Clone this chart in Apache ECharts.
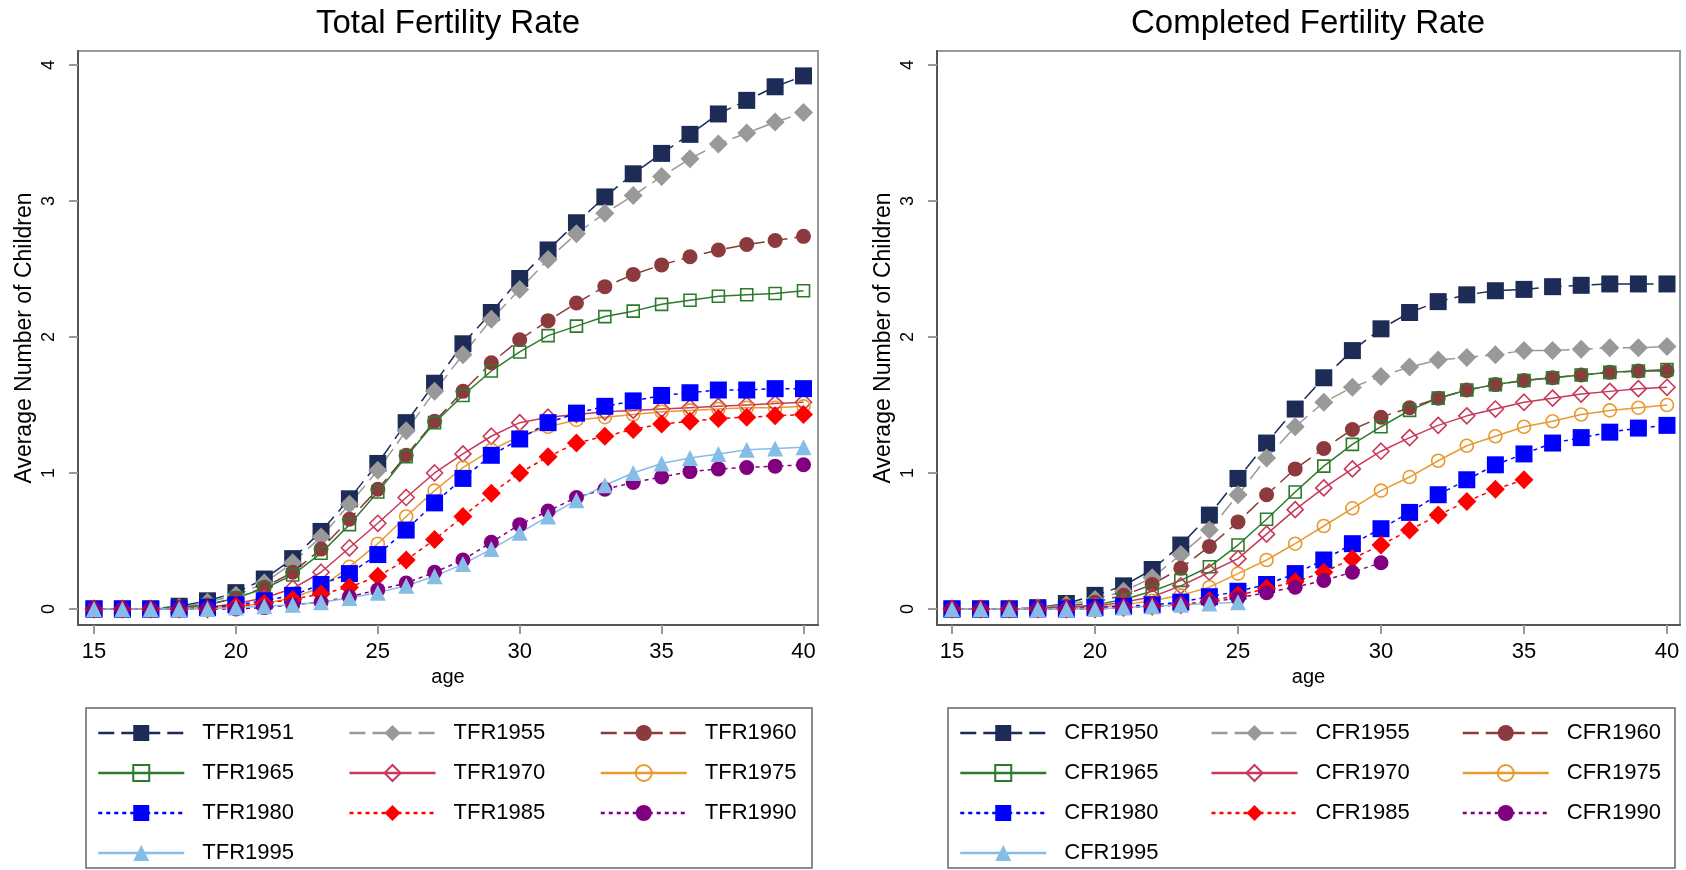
<!DOCTYPE html>
<html>
<head>
<meta charset="utf-8">
<script src="https://cdn.jsdelivr.net/npm/echarts@6/dist/echarts.min.js"></script>
<style>
  html, body { margin: 0; padding: 0; background: #fff; }
  #main { width: 1686px; height: 870px; }
</style>
</head>
<body>
<div id="main"></div>
<script>
// ages 15..40
var ages = [15, 16, 17, 18, 19, 20, 21, 22, 23, 24, 25, 26, 27, 28, 29, 30, 31, 32, 33, 34, 35, 36, 37, 38, 39, 40];
var xTicks = [15, 20, 25, 30, 35, 40];
var yTicks = [0, 1, 2, 3, 4];

// Total Fertility Rate, by cohort
var tfr1951 = [0, 0, 0, 0.02, 0.06, 0.12, 0.22, 0.37, 0.57, 0.81, 1.07, 1.37, 1.66, 1.95, 2.18, 2.43, 2.64, 2.84, 3.03, 3.20, 3.35, 3.49, 3.64, 3.74, 3.84, 3.92];
var tfr1955 = [0, 0, 0, 0.01, 0.05, 0.10, 0.19, 0.34, 0.53, 0.77, 1.02, 1.31, 1.60, 1.87, 2.13, 2.35, 2.57, 2.76, 2.91, 3.04, 3.18, 3.31, 3.42, 3.50, 3.58, 3.65];
var tfr1960 = [0, 0, 0, 0.01, 0.03, 0.08, 0.16, 0.27, 0.44, 0.66, 0.88, 1.13, 1.38, 1.60, 1.81, 1.98, 2.12, 2.25, 2.37, 2.46, 2.53, 2.59, 2.64, 2.68, 2.71, 2.74];
var tfr1965 = [0, 0, 0, 0.01, 0.03, 0.08, 0.15, 0.25, 0.41, 0.62, 0.86, 1.12, 1.37, 1.57, 1.75, 1.89, 2.01, 2.08, 2.15, 2.19, 2.24, 2.27, 2.30, 2.31, 2.32, 2.34];
var tfr1970 = [0, 0, 0, 0, 0.01, 0.04, 0.08, 0.15, 0.27, 0.45, 0.63, 0.82, 1.00, 1.14, 1.27, 1.37, 1.41, 1.43, 1.45, 1.46, 1.47, 1.48, 1.49, 1.50, 1.51, 1.52];
var tfr1975 = [0, 0, 0, 0, 0.01, 0.02, 0.04, 0.08, 0.16, 0.31, 0.48, 0.68, 0.87, 1.04, 1.17, 1.27, 1.34, 1.39, 1.41, 1.43, 1.45, 1.46, 1.47, 1.48, 1.48, 1.49];
var tfr1980 = [0, 0, 0, 0, 0.01, 0.03, 0.06, 0.10, 0.18, 0.26, 0.40, 0.58, 0.78, 0.96, 1.13, 1.25, 1.37, 1.44, 1.49, 1.53, 1.57, 1.59, 1.61, 1.61, 1.62, 1.62];
var tfr1985 = [0, 0, 0, 0, 0, 0.02, 0.04, 0.07, 0.11, 0.16, 0.24, 0.36, 0.51, 0.68, 0.85, 1.00, 1.12, 1.22, 1.27, 1.32, 1.36, 1.38, 1.40, 1.41, 1.42, 1.43];
var tfr1990 = [0, 0, 0, 0, 0, 0, 0.01, 0.03, 0.05, 0.09, 0.14, 0.19, 0.27, 0.36, 0.49, 0.62, 0.72, 0.82, 0.88, 0.93, 0.97, 1.01, 1.03, 1.04, 1.05, 1.06];
var tfr1995 = [0, 0, 0, 0, 0, 0.01, 0.02, 0.03, 0.05, 0.08, 0.12, 0.17, 0.24, 0.33, 0.44, 0.56, 0.68, 0.80, 0.91, 1.00, 1.07, 1.11, 1.14, 1.17, 1.18, 1.19];

// Completed Fertility Rate, by cohort (younger cohorts stop early)
var cfr1950 = [0, 0, 0, 0.01, 0.04, 0.10, 0.17, 0.29, 0.47, 0.69, 0.96, 1.22, 1.47, 1.70, 1.90, 2.06, 2.18, 2.26, 2.31, 2.34, 2.35, 2.37, 2.38, 2.39, 2.39, 2.39];
var cfr1955 = [0, 0, 0, 0.01, 0.03, 0.07, 0.13, 0.23, 0.40, 0.58, 0.84, 1.11, 1.34, 1.52, 1.63, 1.71, 1.78, 1.83, 1.85, 1.87, 1.90, 1.90, 1.91, 1.92, 1.92, 1.93];
var cfr1960 = [0, 0, 0, 0, 0.02, 0.05, 0.10, 0.18, 0.30, 0.46, 0.64, 0.84, 1.03, 1.18, 1.32, 1.41, 1.48, 1.55, 1.61, 1.65, 1.68, 1.70, 1.72, 1.74, 1.75, 1.75];
var cfr1965 = [0, 0, 0, 0, 0.01, 0.03, 0.07, 0.13, 0.21, 0.31, 0.47, 0.66, 0.86, 1.05, 1.21, 1.34, 1.46, 1.55, 1.61, 1.65, 1.68, 1.70, 1.72, 1.74, 1.75, 1.76];
var cfr1970 = [0, 0, 0, 0, 0.01, 0.02, 0.05, 0.09, 0.17, 0.27, 0.37, 0.55, 0.73, 0.89, 1.03, 1.16, 1.26, 1.35, 1.42, 1.47, 1.52, 1.55, 1.58, 1.60, 1.62, 1.63];
var cfr1975 = [0, 0, 0, 0, 0, 0.01, 0.03, 0.06, 0.10, 0.16, 0.26, 0.36, 0.48, 0.61, 0.74, 0.87, 0.97, 1.09, 1.20, 1.27, 1.34, 1.38, 1.43, 1.46, 1.48, 1.50];
var cfr1980 = [0, 0, 0, 0, 0, 0.01, 0.02, 0.03, 0.05, 0.09, 0.13, 0.18, 0.26, 0.36, 0.48, 0.59, 0.71, 0.84, 0.95, 1.06, 1.14, 1.22, 1.26, 1.30, 1.33, 1.35];
var cfr1985 = [0, 0, 0, 0, 0, 0, 0.01, 0.02, 0.03, 0.06, 0.10, 0.15, 0.20, 0.27, 0.37, 0.47, 0.58, 0.69, 0.79, 0.88, 0.95];
var cfr1990 = [0, 0, 0, 0, 0, 0, 0.01, 0.02, 0.03, 0.05, 0.08, 0.12, 0.16, 0.21, 0.27, 0.34];
var cfr1995 = [0, 0, 0, 0, 0, 0, 0.01, 0.02, 0.03, 0.04, 0.05];

var font = "'Liberation Sans', Arial, sans-serif";

// one style per cohort slot (same in both panels)
var styles = [
    {color: '#1d2b57', symbol: 'rect', size: 17, hollow: false, dash: [16, 7]},
    {color: '#999999', symbol: 'diamond', size: 19, hollow: false, dash: [16, 7]},
    {color: '#8c3a3e', symbol: 'circle', size: 15, hollow: false, dash: [16, 7]},
    {color: '#2d7a2d', symbol: 'rect', size: 12, hollow: true, dash: 'solid'},
    {color: '#c8385a', symbol: 'diamond', size: 16, hollow: true, dash: 'solid'},
    {color: '#e89a30', symbol: 'circle', size: 13, hollow: true, dash: 'solid'},
    {color: '#0000ff', symbol: 'rect', size: 17, hollow: false, dash: [4, 4]},
    {color: '#ff0000', symbol: 'diamond', size: 19, hollow: false, dash: [4, 4]},
    {color: '#800080', symbol: 'circle', size: 15, hollow: false, dash: [4, 4]},
    {color: '#86bde6', symbol: 'triangle', size: 16, hollow: false, dash: 'solid'}
];

var tfrNames = ['TFR1951', 'TFR1955', 'TFR1960', 'TFR1965', 'TFR1970', 'TFR1975', 'TFR1980', 'TFR1985', 'TFR1990', 'TFR1995'];
var cfrNames = ['CFR1950', 'CFR1955', 'CFR1960', 'CFR1965', 'CFR1970', 'CFR1975', 'CFR1980', 'CFR1985', 'CFR1990', 'CFR1995'];
var tfrData = [tfr1951, tfr1955, tfr1960, tfr1965, tfr1970, tfr1975, tfr1980, tfr1985, tfr1990, tfr1995];
var cfrData = [cfr1950, cfr1955, cfr1960, cfr1965, cfr1970, cfr1975, cfr1980, cfr1985, cfr1990, cfr1995];

function makeSeries(name, values, st, idx) {
    var pts = values.map(function (v, i) { return [ages[i], v]; });
    return {
        name: name,
        type: 'line',
        xAxisIndex: idx,
        yAxisIndex: idx,
        data: pts,
        symbol: st.symbol,
        symbolSize: st.size,
        showAllSymbol: true,
        animation: false,
        lineStyle: {color: st.color, width: 1.5, type: st.dash},
        itemStyle: st.hollow
            ? {color: 'rgba(255,255,255,0)', borderColor: st.color, borderWidth: 1.6}
            : {color: st.color, borderWidth: 0},
        emphasis: {disabled: true}
    };
}

var series = [];
tfrNames.forEach(function (n, i) { series.push(makeSeries(n, tfrData[i], styles[i], 0)); });
cfrNames.forEach(function (n, i) { series.push(makeSeries(n, cfrData[i], styles[i], 1)); });

function xAxisFor(idx, min, max) {
    return {
        type: 'value', gridIndex: idx, min: min, max: max,
        name: 'age', nameLocation: 'middle', nameGap: 40,
        nameTextStyle: {fontFamily: font, fontSize: 20, color: '#000'},
        axisLine: {onZero: false, lineStyle: {color: '#555', width: 2}},
        axisTick: {customValues: xTicks, length: 9, lineStyle: {color: '#999', width: 2}},
        axisLabel: {customValues: xTicks, margin: 16, fontFamily: font, fontSize: 22, color: '#000'},
        splitLine: {show: false}
    };
}

function yAxisFor(idx) {
    return {
        type: 'value', gridIndex: idx, min: -0.118, max: 4.103,
        name: 'Average Number of Children', nameLocation: 'middle', nameGap: 42,
        nameTextStyle: {fontFamily: font, fontSize: 23, color: '#000'},
        axisLine: {lineStyle: {color: '#555', width: 2}},
        axisTick: {customValues: yTicks, length: 9, lineStyle: {color: '#999', width: 2}},
        axisLabel: {customValues: yTicks, rotate: 90, margin: 20, fontFamily: font, fontSize: 18, color: '#000'},
        splitLine: {show: false}
    };
}

function legendFor(names, left) {
    return {
        data: names,
        left: left, top: 722, width: 740,
        orient: 'horizontal',
        padding: 0,
        itemWidth: 86, itemHeight: 20, itemGap: 18,
        selectedMode: false,
        lineStyle: {width: 2.5},
        textStyle: {fontFamily: font, fontSize: 22, color: '#000', width: 128, lineHeight: 20, padding: [0, 0, 0, 13]}
    };
}

var chart = echarts.init(document.getElementById('main'));

var option = {
    backgroundColor: '#fff',
    animation: false,
    title: [
        {text: 'Total Fertility Rate', left: 448, top: 7, padding: 0, textAlign: 'center',
         textStyle: {fontFamily: font, fontSize: 33, fontWeight: 'normal', color: '#000'}},
        {text: 'Completed Fertility Rate', left: 1308, top: 7, padding: 0, textAlign: 'center',
         textStyle: {fontFamily: font, fontSize: 33, fontWeight: 'normal', color: '#000'}}
    ],
    grid: [
        {left: 78, top: 51, width: 740, height: 574, show: true, borderColor: '#999', borderWidth: 2, backgroundColor: '#fff'},
        {left: 937, top: 51, width: 743, height: 574, show: true, borderColor: '#999', borderWidth: 2, backgroundColor: '#fff'}
    ],
    xAxis: [xAxisFor(0, 14.436, 40.511), xAxisFor(1, 14.476, 40.455)],
    yAxis: [yAxisFor(0), yAxisFor(1)],
    legend: [legendFor(tfrNames, 97), legendFor(cfrNames, 959)],
    graphic: [
        {type: 'rect', shape: {x: 86, y: 708, width: 726, height: 160},
         style: {fill: 'none', stroke: '#666', lineWidth: 1.5}, silent: true},
        {type: 'rect', shape: {x: 948, y: 708, width: 727, height: 160},
         style: {fill: 'none', stroke: '#666', lineWidth: 1.5}, silent: true}
    ],
    series: series
};

chart.setOption(option);
</script>
</body>
</html>
